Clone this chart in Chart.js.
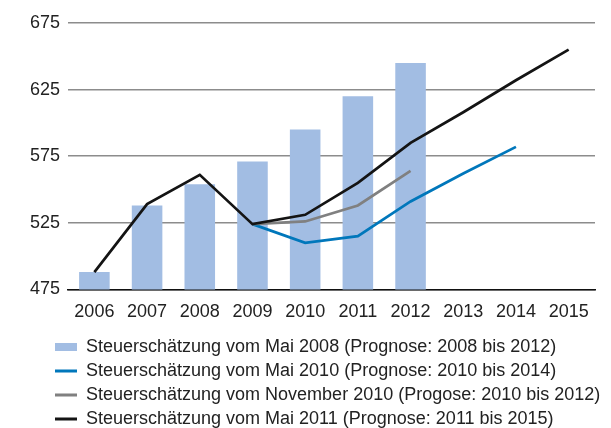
<!DOCTYPE html>
<html>
<head>
<meta charset="utf-8">
<script src="https://cdn.jsdelivr.net/npm/chart.js@4"></script>
<style>
  html, body { margin: 0; padding: 0; background: #fff; }
  #wrap { width: 611px; height: 428px; }
</style>
</head>
<body>
<div id="wrap"><canvas id="chart" width="611" height="428"></canvas></div>
<script>
// ===============================
// Daten (Mrd. Euro)
// ===============================
const years = ["2006", "2007", "2008", "2009", "2010", "2011", "2012", "2013", "2014", "2015"];
const yTicks = [475, 525, 575, 625, 675];

const mai2008 = [488, 538, 554, 571, 595, 620, 645, null, null, null];
const mai2010 = [null, null, null, 524, 510, 515, 541, 562, 582, null];
const nov2010 = [null, null, null, 524, 526, 538, 564, null, null, null];
const mai2011 = [488, 539, 561, 524, 531, 555, 585, 608, 632, 655];

const labels = [
  "Steuerschätzung vom Mai 2008 (Prognose: 2008 bis 2012)",
  "Steuerschätzung vom Mai 2010 (Prognose: 2010 bis 2014)",
  "Steuerschätzung vom November 2010 (Progose: 2010 bis 2012)",
  "Steuerschätzung vom Mai 2011 (Prognose: 2011 bis 2015)",
];

const colBar = "#a2bde3";
const colBlue = "#0077bb";
const colGray = "#808080";
const colBlack = "#141414";

const FONT = "'Liberation Sans', Arial, Helvetica, sans-serif";

// ===============================
// Legenden-Symbole
// ===============================
function makeMarker(color, h) {
  const c = document.createElement("canvas");
  c.width = 49;
  c.height = 10;
  const ctx = c.getContext("2d");
  ctx.fillStyle = color;
  ctx.fillRect(27, (10 - h) / 2, 22, h);
  return c;
}
const markers = [
  makeMarker(colBar, 8),
  makeMarker(colBlue, 3),
  makeMarker(colGray, 3),
  makeMarker(colBlack, 3),
];

function lineSet(label, data, color, order) {
  return {
    type: "line",
    label: label,
    data: data,
    borderColor: color,
    backgroundColor: color,
    borderWidth: 2.7,
    pointRadius: 0,
    tension: 0,
    spanGaps: false,
    order: order,
  };
}

new Chart(document.getElementById("chart"), {
  type: "bar",
  data: {
    labels: years,
    datasets: [
      {
        label: labels[0],
        data: mai2008,
        backgroundColor: colBar,
        barPercentage: 0.58,
        categoryPercentage: 1,
        order: 10,
      },
      lineSet(labels[1], mai2010, colBlue, 3),
      lineSet(labels[2], nov2010, colGray, 2),
      lineSet(labels[3], mai2011, colBlack, 1),
    ],
  },
  options: {
    responsive: false,
    animation: false,
    layout: { padding: { left: 22, right: 0, top: 23, bottom: -10 } },
    plugins: {
      tooltip: { enabled: false },
      legend: {
        position: "bottom",
        align: "start",
        labels: {
          usePointStyle: true,
          pointStyleWidth: 49,
          padding: 6,
          color: "#222",
          font: { family: FONT, size: 18 },
          sort: (a, b) => a.datasetIndex - b.datasetIndex,
          generateLabels: (chart) =>
            chart.data.datasets.map((ds, i) => ({
              text: ds.label,
              datasetIndex: i,
              pointStyle: markers[i],
              fontColor: "#222",
              lineWidth: 0,
              hidden: false,
            })),
        },
      },
    },
    scales: {
      x: {
        grid: { display: false, drawTicks: false },
        border: { display: true, color: "#111", width: 1.5 },
        ticks: { color: "#222", font: { family: FONT, size: 18 }, padding: 12 },
        afterFit: (s) => {
          s.height -= 3;
        },
      },
      y: {
        min: 475,
        max: 675,
        afterBuildTicks: (axis) => {
          axis.ticks = yTicks.map((v) => ({ value: v }));
        },
        grid: { color: "#8c8c8c", lineWidth: 1.5, drawTicks: false },
        border: { display: false },
        ticks: { color: "#222", font: { family: FONT, size: 18 }, padding: 8 },
      },
      // leere Achse rechts, nur als Rand
      yRand: {
        position: "right",
        grid: { display: false, drawTicks: false },
        border: { display: false },
        ticks: { display: false },
        afterFit: (s) => {
          s.width = 16;
        },
      },
    },
  },
});
</script>
</body>
</html>
